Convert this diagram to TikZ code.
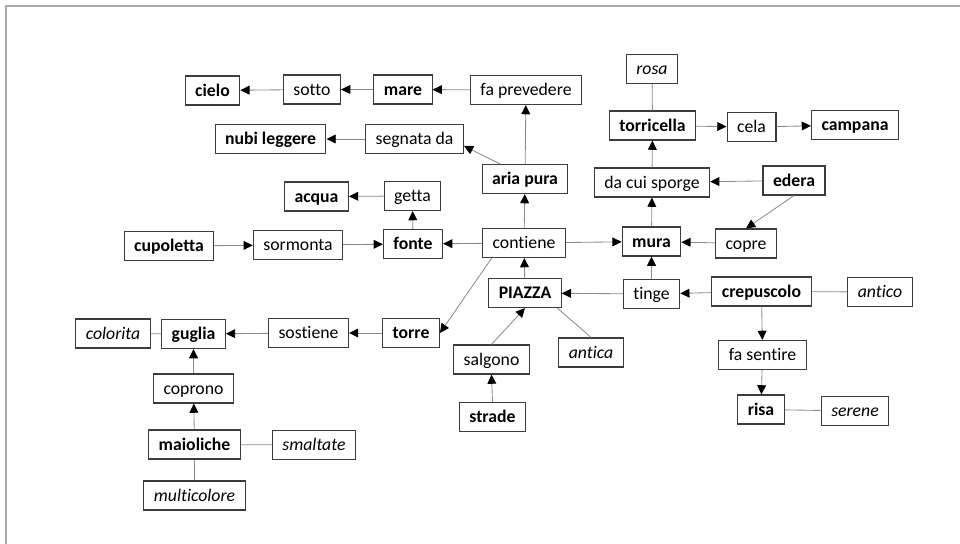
\documentclass[tikz,border=0pt]{standalone}
\usepackage{fontspec}
\setmainfont{Carlito}[Ligatures=NoCommon]
\usepackage{tikz}
\usetikzlibrary{arrows.meta}
\definecolor{boxline}{RGB}{60,60,60}
\definecolor{linkline}{RGB}{140,140,140}
\definecolor{framegray}{RGB}{170,170,170}

\tikzset{
  base/.style={draw=boxline, line width=0.8pt, rectangle, minimum height=0.725cm,
    inner xsep=0.25cm, inner ysep=0pt, text height=10pt, text depth=1.6pt,
    font=\fontsize{12.6}{15}\selectfont},
  concept/.style={base, font=\fontsize{12.6}{15}\selectfont\bfseries},
  linkword/.style={base},
  attribute/.style={base, font=\fontsize{12.6}{15}\selectfont\itshape},
  arr/.style={draw=linkline, line width=0.6pt, -{Triangle[length=2.3mm, width=2.2mm, color=black]}},
  tie/.style={draw=linkline, line width=0.6pt}
}

\begin{document}
\begin{tikzpicture}[x=0.025cm, y=-0.025cm]
\useasboundingbox (0,0) rectangle (960,544);
\draw[framegray, line width=1pt] (6,544) -- (6,6) -- (960,6);

% concetti
\foreach \name/\x/\y/\txt in {
  cielo/212.5/90.5/cielo, mare/403/89.5/mare, nubi/270.5/139/nubi leggere,
  aria/525/179/aria pura, acqua/316.5/196.5/acqua, fonte/413/244/fonte,
  cupoletta/169/246/cupoletta, torre/411/333/torre, guglia/193.5/334/guglia,
  maioliche/194.5/444.5/maioliche, strade/492.5/417/strade, piazza/525/293/PIAZZA,
  mura/651.5/241.5/mura, torricella/652.5/125.5/torricella, campana/855/125/campana,
  edera/794/180.5/edera, crepuscolo/761.5/291.5/crepuscolo, risa/761/409.5/risa%
} {
  \node[concept] (\name) at (\x,\y) {\txt};
}

% parole legame
\foreach \name/\x/\y/\txt in {
  sotto/312/89.5/sotto, faprev/526/90/fa prevedere, segnata/414.5/139/segnata da,
  getta/412.5/196/getta, sormonta/298/245/sormonta, contiene/524/243/contiene,
  sostiene/308.5/333/sostiene, coprono/193.5/388.5/coprono, salgono/491.5/359.5/salgono,
  tinge/651.5/294/tinge, copre/746/243.5/copre, dacui/652/182.5/da cui sporge,
  cela/751.5/127/cela, fasentire/762.5/355/fa sentire%
} {
  \node[linkword] (\name) at (\x,\y) {\txt};
}

% attributi
\foreach \name/\x/\y/\txt in {
  rosa/652/69/rosa, colorita/113/333.5/colorita, smaltate/314/445/smaltate,
  multicolore/194.5/495.5/multicolore, antica/591/352.5/antica,
  antico/880/292/antico, serene/855/411/serene%
} {
  \node[attribute] (\name) at (\x,\y) {\txt};
}

% frecce
\foreach \a/\b in {
  faprev/mare, mare/sotto, sotto/cielo, aria/faprev, aria.149/segnata.-8,
  segnata/nubi, contiene/aria, fonte/getta, getta/acqua, cupoletta/sormonta,
  sormonta/fonte, contiene/fonte, contiene/mura, contiene.205/torre.east,
  piazza/contiene, torre/sostiene, sostiene/guglia, coprono/guglia,
  maioliche/coprono, salgono.north/piazza.south, strade.north/salgono.south,
  tinge/piazza, tinge/mura, crepuscolo/tinge, crepuscolo/fasentire,
  fasentire/risa, mura/dacui, dacui/torricella, torricella/cela, cela/campana,
  edera/dacui, edera.south/copre.north, copre/mura%
} {
  \draw[arr] (\a) -- (\b);
}

% legami senza freccia
\foreach \a/\b in {
  guglia/colorita, maioliche/smaltate, maioliche/multicolore, piazza.-25/antica.north,
  crepuscolo/antico, risa/serene, torricella/rosa%
} {
  \draw[tie] (\a) -- (\b);
}
\end{tikzpicture}
\end{document}
